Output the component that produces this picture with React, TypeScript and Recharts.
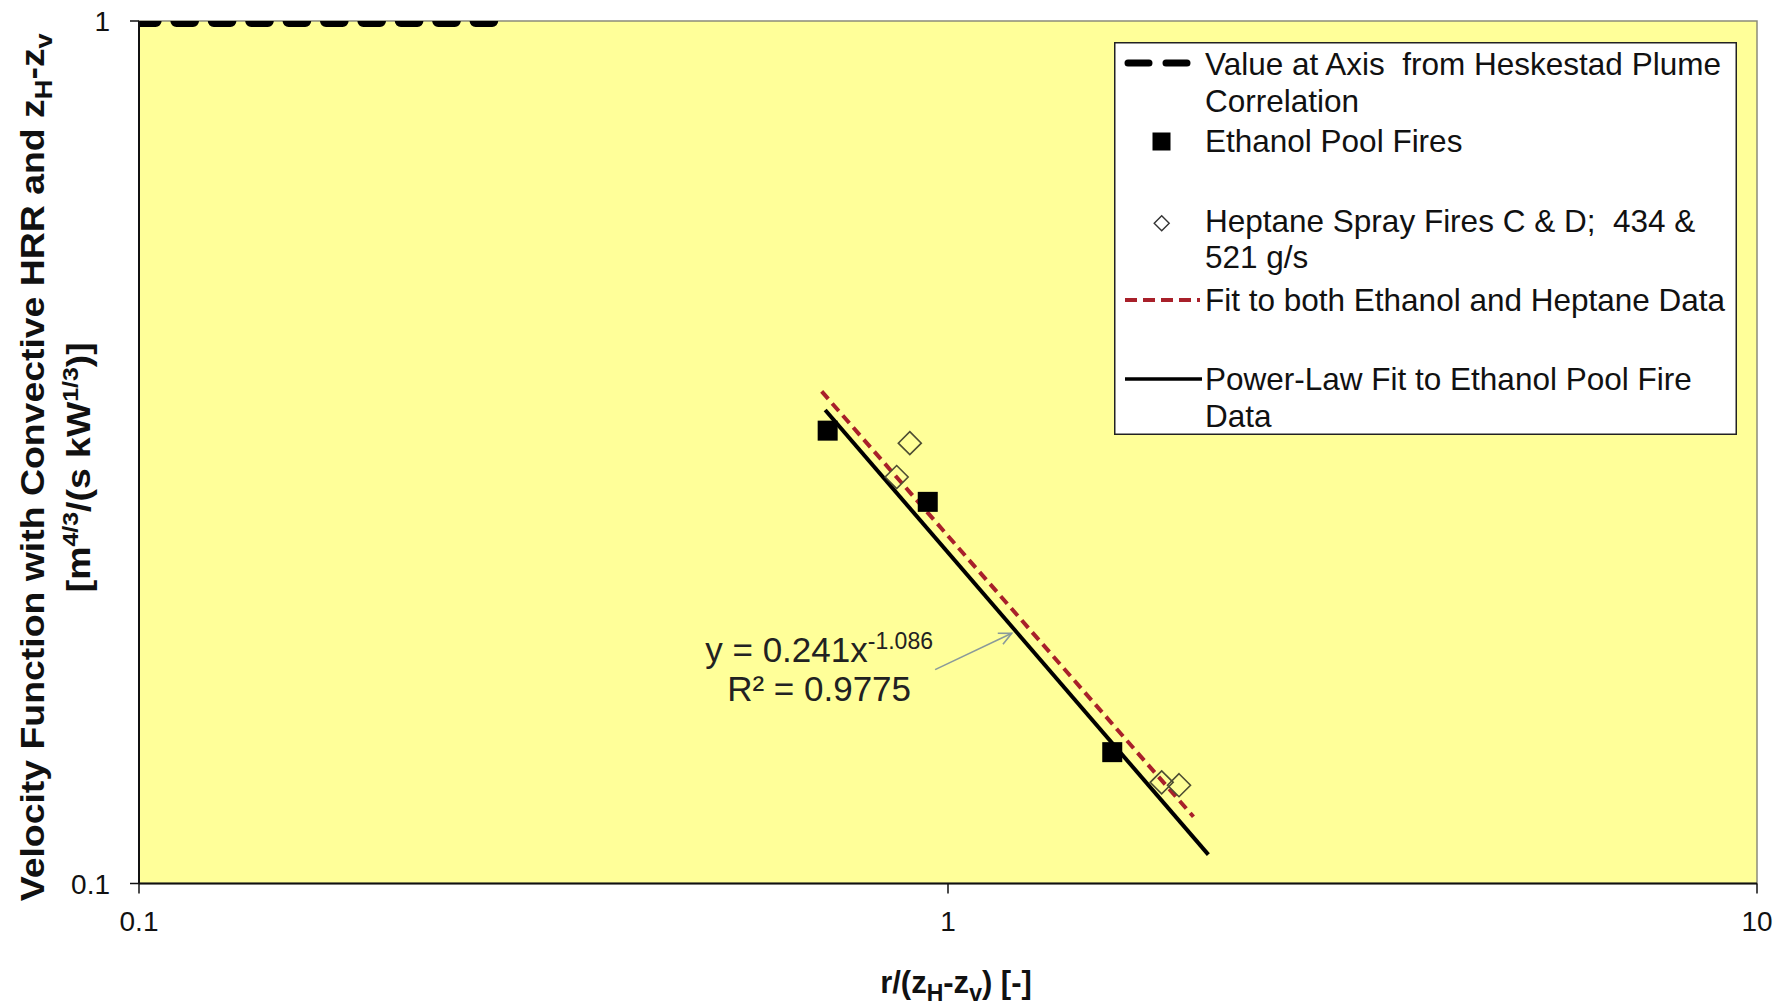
import {
  ComposedChart,
  Label,
  Legend,
  Line,
  ReferenceArea,
  ReferenceLine,
  Scatter,
  XAxis,
  YAxis,
} from 'recharts'

const ethanolX = [0.71, 0.944, 1.596]
const ethanolY = [0.335, 0.277, 0.142]
const heptaneX = [0.897, 0.864, 1.837, 1.93]
const heptaneY = [0.324, 0.296, 0.131, 0.13]
const heskestadX = [0.1, 0.284]
const heskestadY = [1, 1]
const bothFitX = [0.698, 2.011]
const bothFitY = [0.372, 0.1195]
const ethanolFitX = [0.705, 2.098]
const ethanolFitY = [0.354, 0.108]
const xTicks = [0.1, 1, 10]
const yTicks = [0.1, 1]
const arrowFrom = { x: 0.964, y: 0.177 }
const arrowTo = { x: 1.199, y: 0.195 }

const zip = (xs: number[], ys: number[]) => xs.map((x, i) => ({ x, y: ys[i] }))

const ethanol = zip(ethanolX, ethanolY)
const heptane = zip(heptaneX, heptaneY)
const heskestad = zip(heskestadX, heskestadY)
const bothFit = zip(bothFitX, bothFitY)
const ethanolFit = zip(ethanolFitX, ethanolFitY)

const FONT = '"Liberation Sans", Arial, sans-serif'
const TEXT = '#111'

function SquareDot({ cx, cy }: any) {
  return <rect x={cx - 10} y={cy - 10} width={20} height={20} fill="#000" />
}

function DiamondDot({ cx, cy }: any) {
  const r = 11.5
  return (
    <path
      d={`M${cx},${cy - r} L${cx + r},${cy} L${cx},${cy + r} L${cx - r},${cy} Z`}
      fill="none"
      stroke="#4d4d33"
      strokeWidth={1.6}
    />
  )
}

function XTick({ x, y, payload }: any) {
  return (
    <text x={x} y={y + 37} textAnchor="middle" fontSize={28} fill={TEXT} fontFamily={FONT}>
      {payload.value}
    </text>
  )
}

function YTick({ x, y, payload }: any) {
  return (
    <text x={x - 20} y={y + 10} textAnchor="end" fontSize={28} fill={TEXT} fontFamily={FONT}>
      {payload.value}
    </text>
  )
}

function YTitle({ viewBox }: any) {
  const cy = viewBox.y + viewBox.height / 2 + 15
  return (
    <g fontFamily={FONT} fontWeight="bold" fill={TEXT}>
      <text
        x={44}
        y={cy}
        transform={`rotate(-90, 44, ${cy})`}
        textAnchor="middle"
        fontSize={33}
        textLength={868}
        lengthAdjust="spacingAndGlyphs"
      >
        Velocity Function with Convective HRR and z
        <tspan dy={8} fontSize={24}>H</tspan>
        <tspan dy={-8}>-z</tspan>
        <tspan dy={8} fontSize={24}>v</tspan>
      </text>
      <text
        x={90}
        y={cy}
        transform={`rotate(-90, 90, ${cy})`}
        textAnchor="middle"
        fontSize={33}
        textLength={250}
        lengthAdjust="spacingAndGlyphs"
      >
        [m
        <tspan dy={-12} fontSize={22}>4/3</tspan>
        <tspan dy={12}>/(s kW</tspan>
        <tspan dy={-12} fontSize={22}>1/3</tspan>
        <tspan dy={12}>)]</tspan>
      </text>
    </g>
  )
}

function XTitle({ viewBox }: any) {
  const cx = viewBox.x + viewBox.width / 2 + 8
  return (
    <text x={cx} y={993} textAnchor="middle" fontSize={31} fontWeight="bold" fill={TEXT} fontFamily={FONT}>
      r/(z
      <tspan dy={8} fontSize={23}>H</tspan>
      <tspan dy={-8}>-z</tspan>
      <tspan dy={8} fontSize={23}>v</tspan>
      <tspan dy={-8}>) [-]</tspan>
    </text>
  )
}

// trend-line label with its leader arrow
function FitArrow({ x1, y1, x2, y2 }: any) {
  const a = Math.atan2(y2 - y1, x2 - x1)
  const h = 14
  const p1 = `${x2 - h * Math.cos(a - 0.45)},${y2 - h * Math.sin(a - 0.45)}`
  const p2 = `${x2 - h * Math.cos(a + 0.45)},${y2 - h * Math.sin(a + 0.45)}`
  const tx = x1 - 116
  return (
    <g>
      <line x1={x1} y1={y1} x2={x2} y2={y2} stroke="#8a9a9a" strokeWidth={1.6} />
      <polyline points={`${p1} ${x2},${y2} ${p2}`} fill="none" stroke="#8a9a9a" strokeWidth={1.6} />
      <g fontFamily={FONT} fill="#222">
        <text x={tx} y={y1 - 8} textAnchor="middle" fontSize={35}>
          y = 0.241x
          <tspan dy={-13} fontSize={23}>-1.086</tspan>
        </text>
        <text x={tx} y={y1 + 31} textAnchor="middle" fontSize={35}>
          R² = 0.9775
        </text>
      </g>
    </g>
  )
}

function LegendBox() {
  const tx = 91
  return (
    <svg width={623} height={393} style={{ display: 'block' }}>
      <rect x={0.75} y={0.75} width={621.5} height={391.5} fill="#fff" stroke="#222" strokeWidth={1.5} />
      <g fontFamily={FONT} fontSize={31.5} fill={TEXT}>
        <line x1={14} y1={21} x2={74} y2={21} stroke="#000" strokeWidth={7} strokeLinecap="round" strokeDasharray="21 17" />
        <text x={tx} y={33}>Value at Axis{'\u00a0'} from Heskestad Plume</text>
        <text x={tx} y={70}>Correlation</text>

        <rect x={38.5} y={90.5} width={18} height={18} fill="#000" />
        <text x={tx} y={110}>Ethanol Pool Fires</text>

        <path d="M47.7,173.8 L55.2,181.3 L47.7,188.8 L40.2,181.3 Z" fill="none" stroke="#333" strokeWidth={1.4} />
        <text x={tx} y={190}>Heptane Spray Fires C &amp; D;{'\u00a0'} 434 &amp;</text>
        <text x={tx} y={226}>521 g/s</text>

        <line x1={11} y1={258} x2={86} y2={258} stroke="#a8202a" strokeWidth={4} strokeDasharray="12 6" />
        <text x={tx} y={269}>Fit to both Ethanol and Heptane Data</text>

        <line x1={11} y1={337} x2={88} y2={337} stroke="#000" strokeWidth={3.5} />
        <text x={tx} y={348}>Power-Law Fit to Ethanol Pool Fire</text>
        <text x={tx} y={385}>Data</text>
      </g>
    </svg>
  )
}

export default function App() {
  return (
    <div style={{ position: 'absolute', left: 0, top: 0, width: 1788, height: 1005, background: '#fff' }}>
      <ComposedChart
        width={1788}
        height={1005}
        margin={{ top: 21, right: 31, bottom: 0, left: 0 }}
        style={{ fontFamily: FONT }}
      >
        <ReferenceArea
          x1={0.1}
          x2={10}
          y1={0.1}
          y2={1}
          fill="#FFFF99"
          fillOpacity={1}
          stroke="#8c8c7a"
          strokeWidth={1.5}
          ifOverflow="visible"
        />
        <XAxis
          type="number"
          dataKey="x"
          scale="log"
          domain={[0.1, 10]}
          ticks={xTicks}
          interval={0}
          allowDataOverflow
          height={121.5}
          tickSize={10}
          tickMargin={0}
          tick={<XTick />}
          axisLine={{ stroke: '#111', strokeWidth: 2 }}
          tickLine={{ stroke: '#111', strokeWidth: 1.5 }}
        >
          <Label content={<XTitle />} />
        </XAxis>
        <YAxis
          type="number"
          dataKey="y"
          scale="log"
          domain={[0.1, 1]}
          ticks={yTicks}
          interval={0}
          allowDataOverflow
          width={139}
          tickSize={9}
          tickMargin={0}
          tick={<YTick />}
          axisLine={{ stroke: '#111', strokeWidth: 2 }}
          tickLine={{ stroke: '#111', strokeWidth: 1.5 }}
        >
          <Label content={<YTitle />} />
        </YAxis>
        <Line
          data={heskestad}
          dataKey="y"
          stroke="#000"
          strokeWidth={12}
          strokeLinecap="round"
          strokeDasharray="16.6 20.8"
          dot={false}
          activeDot={false}
          isAnimationActive={false}
          name="Value at Axis from Heskestad Plume Correlation"
        />
        <Line
          data={ethanolFit}
          dataKey="y"
          stroke="#000"
          strokeWidth={4}
          dot={false}
          activeDot={false}
          isAnimationActive={false}
          name="Power-Law Fit to Ethanol Pool Fire Data"
        />
        <Line
          data={bothFit}
          dataKey="y"
          stroke="#a8202a"
          strokeWidth={4}
          strokeDasharray="10 6"
          dot={false}
          activeDot={false}
          isAnimationActive={false}
          name="Fit to both Ethanol and Heptane Data"
        />
        <Scatter
          data={heptane}
          shape={<DiamondDot />}
          isAnimationActive={false}
          name="Heptane Spray Fires C & D; 434 & 521 g/s"
        />
        <Scatter
          data={ethanol}
          shape={<SquareDot />}
          isAnimationActive={false}
          name="Ethanol Pool Fires"
        />
        <ReferenceLine segment={[arrowFrom, arrowTo]} shape={FitArrow} ifOverflow="visible" />
        <Legend
          layout="vertical"
          align="center"
          verticalAlign="middle"
          content={<LegendBox />}
          wrapperStyle={{ left: 1114, top: 42, width: 623, height: 393 }}
        />
      </ComposedChart>
    </div>
  )
}
